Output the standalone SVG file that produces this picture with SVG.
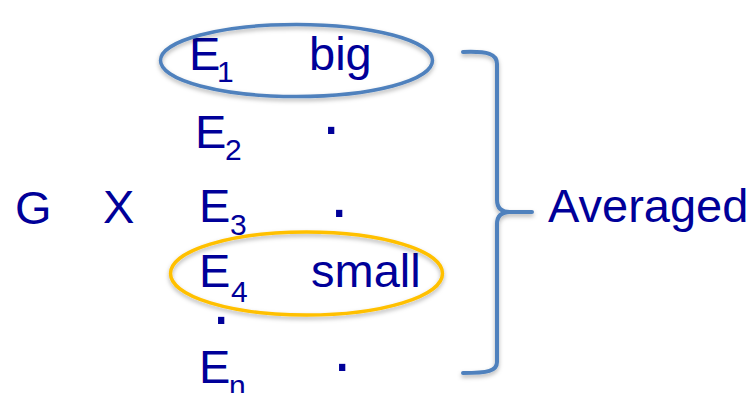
<svg xmlns="http://www.w3.org/2000/svg" width="754" height="393" viewBox="0 0 754 393">
  <style>
    .t { font-family: "Liberation Sans", Arial, sans-serif; font-size: 47px; fill: #000099; }
    .s { font-size: 30px; }
    .d { font-size: 66px; }
    .ell { fill: none; stroke-width: 3.5; filter: url(#sh); }
    .blue { stroke: #4F81BD; }
    .gold { stroke: #FFC000; }
    .brace { fill: none; stroke: #4F81BD; stroke-width: 4; stroke-linecap: round; stroke-linejoin: round; filter: url(#sh); }
  </style>
  <defs>
    <filter id="sh" x="-20%" y="-30%" width="140%" height="160%">
      <feDropShadow dx="0" dy="2.5" stdDeviation="2" flood-color="#000" flood-opacity="0.3"/>
    </filter>
  </defs>
  <rect width="754" height="393" fill="#FFFFFF"/>

  <g id="G"><text class="t" x="15" y="224">G</text></g>
  <g id="X"><text class="t" x="103" y="223">X</text></g>

  <g id="E1"><text class="t" x="189" y="70">E<tspan class="s" x="217" y="82">1</tspan></text></g>
  <g id="big"><text class="t" x="309" y="70">big</text></g>
  <g id="E2"><text class="t" x="195" y="148">E<tspan class="s" x="225" y="160">2</tspan></text></g>
  <g id="dot2"><text class="t d" x="322" y="134">.</text></g>
  <g id="E3"><text class="t" x="199" y="222">E<tspan class="s" x="230" y="235">3</tspan></text></g>
  <g id="dot3"><text class="t d" x="330" y="217">.</text></g>
  <g id="E4"><text class="t" x="199" y="287">E<tspan class="s" x="231" y="302">4</tspan></text></g>
  <g id="small"><text class="t" x="311" y="287">small</text></g>
  <g id="dot4"><text class="t d" x="212" y="324">.</text></g>
  <g id="En"><text class="t" x="199" y="383">E<tspan class="s" x="229" y="396">n</tspan></text></g>
  <g id="dotn"><text class="t d" x="333" y="371">.</text></g>

  <g id="ellipse-big"><ellipse class="ell blue" cx="296.5" cy="60.5" rx="136" ry="36"/></g>
  <g id="ellipse-small"><ellipse class="ell gold" cx="306.5" cy="273.5" rx="136" ry="41.5"/></g>

  <g id="connectors">
    <path class="brace" d="M463,52 C488,51 497,54 497,64 L497,200 C497,208 501,212 510,212 L532,212 M510,212 C501,212 497,216 497,224 L497,362 C497,371 488,373 463,373"/>
  </g>

  <g id="Averaged"><text class="t" x="548" y="222">Averaged</text></g>
</svg>
